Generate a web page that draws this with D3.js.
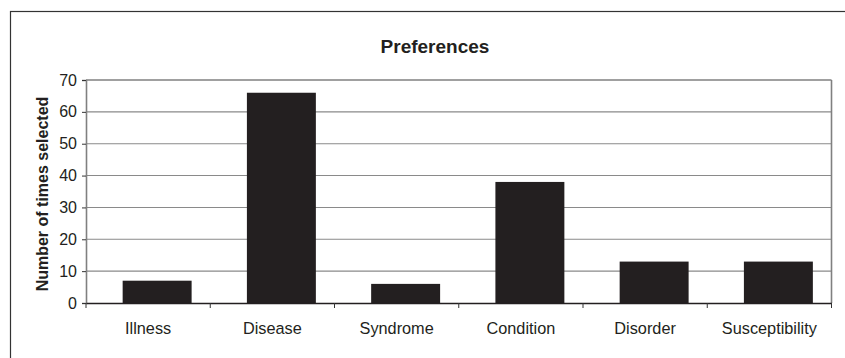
<!DOCTYPE html>
<html><head><meta charset="utf-8">
<script src="https://cdn.jsdelivr.net/npm/d3@7"></script>
<style>html,body{margin:0;padding:0;background:#fff;}svg{display:block;}</style>
</head><body>
<svg id="c" width="845" height="358"></svg>
<script>
const categories = ["Illness","Disease","Syndrome","Condition","Disorder","Susceptibility"];
const values = [7, 66, 6, 38, 13, 13];
const yTicks = [0,10,20,30,40,50,60,70];
const title = "Preferences";
const yTitle = "Number of times selected";

const svg = d3.select("#c");
const font = "'Liberation Sans', Arial, Helvetica, sans-serif";
const L = 86, R = 831.5, T = 80, B = 303;

svg.append("rect").attr("x",10.5).attr("y",11.5).attr("width",900).attr("height",400)
  .attr("fill","none").attr("stroke","#333").attr("stroke-width",1.2);

const x = d3.scaleBand().domain(categories).range([L,R]).padding(0);
const y = d3.scaleLinear().domain([0,70]).range([B,T]);

// gridlines
svg.append("g").selectAll("line").data(yTicks.filter(d=>d>0&&d<70)).join("line")
  .attr("x1",L).attr("x2",R).attr("y1",d=>y(d)).attr("y2",d=>y(d))
  .attr("stroke","#8a8a8a").attr("stroke-width",1.1);

// plot frame top/right
svg.append("line").attr("x1",L).attr("x2",R).attr("y1",y(70)).attr("y2",y(70)).attr("stroke","#808080").attr("stroke-width",1.6);
svg.append("line").attr("x1",R).attr("x2",R).attr("y1",T).attr("y2",B).attr("stroke","#808080").attr("stroke-width",1.6);

// bars
const bw = x.bandwidth();
svg.append("g").selectAll("rect").data(categories).join("rect")
  .attr("x",(d)=>x(d)+bw*0.295).attr("width",bw*0.555)
  .attr("y",(d,i)=>y(values[i])).attr("height",(d,i)=>y(0)-y(values[i]))
  .attr("fill","#231f20");

// y axis
const ya = d3.axisLeft(y).tickValues(yTicks).tickSize(4).tickPadding(5);
const gy = svg.append("g").attr("transform",`translate(${L},0)`).call(ya);
gy.select(".domain").attr("stroke","#808080").attr("stroke-width",1.6);
gy.selectAll(".tick line").attr("stroke","#333");
gy.selectAll("text").attr("font-family",font).attr("font-size","16px").attr("fill","#231f20");

// x axis
const xa = d3.axisBottom(x).tickSize(0).tickPadding(19);
const gx = svg.append("g").attr("transform",`translate(0,${B})`).call(xa);
gx.select(".domain").attr("stroke","#231f20").attr("stroke-width",1.6);
gx.selectAll("text").attr("font-family",font).attr("font-size","16.3px").attr("fill","#231f20");
// category boundary ticks
const bounds = categories.map(c=>x(c)).concat([R]);
gx.selectAll(".bt").data(bounds).join("line").attr("class","bt")
  .attr("x1",d=>d).attr("x2",d=>d).attr("y1",0).attr("y2",5).attr("stroke","#333");

// title
svg.append("text").attr("x",435).attr("y",53).attr("text-anchor","middle")
  .attr("font-family",font).attr("font-weight","bold").attr("font-size","19px").attr("fill","#231f20").text(title);

// y title
svg.append("text").attr("transform","translate(48,194) rotate(-90)").attr("text-anchor","middle")
  .attr("font-family",font).attr("font-weight","bold").attr("font-size","16px").attr("fill","#231f20").text(yTitle);
</script>
</body></html>
